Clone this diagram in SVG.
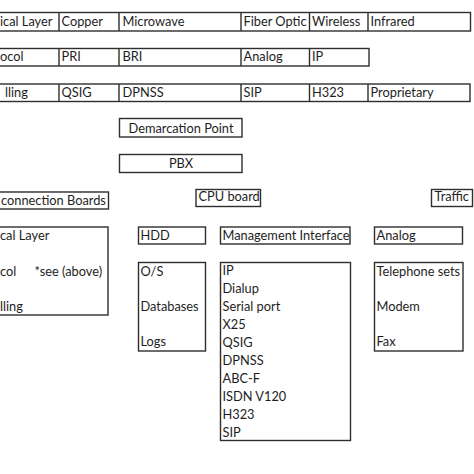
<svg xmlns="http://www.w3.org/2000/svg" width="474" height="474" viewBox="0 0 474 474">
<style>
.b{fill:#fff;stroke:#2e2e2e;stroke-width:1.4}
.l{stroke:#2e2e2e;stroke-width:1.4}
text{font-family:Lato,"Liberation Sans",sans-serif;font-size:12.8px;fill:#1e1e1e}
.c{text-anchor:middle}
</style>
<rect width="474" height="474" fill="#fff"/>
<g id="row-physical">
<rect class="b" x="-5" y="12.5" width="475.5" height="18.5"/>
<line class="l" x1="59" y1="12.5" x2="59" y2="31"/>
<line class="l" x1="119" y1="12.5" x2="119" y2="31"/>
<line class="l" x1="241" y1="12.5" x2="241" y2="31"/>
<line class="l" x1="309.5" y1="12.5" x2="309.5" y2="31"/>
<line class="l" x1="368" y1="12.5" x2="368" y2="31"/>
<text x="0" y="26">ical Layer</text>
<text x="61.5" y="26">Copper</text>
<text x="122.5" y="26">Microwave</text>
<text x="243.5" y="26">Fiber Optic</text>
<text x="312" y="26">Wireless</text>
<text x="370.5" y="26">Infrared</text>
</g>
<g id="row-protocol">
<rect class="b" x="-5" y="48.5" width="374" height="17.5"/>
<line class="l" x1="59" y1="48.5" x2="59" y2="66"/>
<line class="l" x1="119" y1="48.5" x2="119" y2="66"/>
<line class="l" x1="241" y1="48.5" x2="241" y2="66"/>
<line class="l" x1="309.5" y1="48.5" x2="309.5" y2="66"/>
<text x="0" y="61">ocol</text>
<text x="61.5" y="61">PRI</text>
<text x="122.5" y="61">BRI</text>
<text x="243.5" y="61">Analog</text>
<text x="312" y="61">IP</text>
</g>
<g id="row-signalling">
<rect class="b" x="-5" y="84" width="475" height="17.5"/>
<line class="l" x1="59" y1="84" x2="59" y2="101.5"/>
<line class="l" x1="119" y1="84" x2="119" y2="101.5"/>
<line class="l" x1="241" y1="84" x2="241" y2="101.5"/>
<line class="l" x1="309.5" y1="84" x2="309.5" y2="101.5"/>
<line class="l" x1="368" y1="84" x2="368" y2="101.5"/>
<text x="5" y="97">lling</text>
<text x="61.5" y="97">QSIG</text>
<text x="122.5" y="97">DPNSS</text>
<text x="243.5" y="97">SIP</text>
<text x="312" y="97">H323</text>
<text x="370.5" y="97">Proprietary</text>
</g>
<g id="demarcation">
<rect class="b" x="119.5" y="118.5" width="122.5" height="18.5"/>
<text class="c" x="181" y="132.5">Demarcation Point</text>
</g>
<g id="pbx">
<rect class="b" x="119.5" y="154.5" width="122.5" height="18"/>
<text class="c" x="181" y="167.5">PBX</text>
</g>
<g id="interconnection">
<rect class="b" x="-5" y="192" width="113.5" height="17"/>
<text x="1" y="205">connection Boards</text>
</g>
<g id="cpu">
<rect class="b" x="196" y="189.5" width="64.5" height="17"/>
<text x="198.5" y="201">CPU board</text>
</g>
<g id="traffic">
<rect class="b" x="431.5" y="189.5" width="41" height="17"/>
<text x="434.5" y="201">Traffic</text>
</g>
<g id="layers">
<rect class="b" x="-5" y="227" width="113" height="88"/>
<text x="0" y="240">cal Layer</text>
<text x="0" y="276">col</text>
<text x="34.5" y="276">*see (above)</text>
<text x="0" y="311">lling</text>
</g>
<g id="hdd">
<rect class="b" x="138.5" y="227" width="67" height="17"/>
<text x="140.5" y="240">HDD</text>
</g>
<g id="mgmt">
<rect class="b" x="220.5" y="227" width="129.5" height="17"/>
<text x="222.5" y="240">Management Interface</text>
</g>
<g id="analog">
<rect class="b" x="374.5" y="227" width="88" height="17"/>
<text x="376.5" y="240">Analog</text>
</g>
<g id="storage">
<rect class="b" x="138.5" y="262.5" width="67" height="88.5"/>
<text x="140.5" y="275.5">O/S</text>
<text x="140.5" y="311">Databases</text>
<text x="140.5" y="346">Logs</text>
</g>
<g id="interfaces">
<rect class="b" x="220.5" y="262.5" width="130" height="178"/>
<text x="222.5" y="274.5">IP</text>
<text x="222.5" y="292.6">Dialup</text>
<text x="222.5" y="310.7">Serial port</text>
<text x="222.5" y="328.8">X25</text>
<text x="222.5" y="346.9">QSIG</text>
<text x="222.5" y="365">DPNSS</text>
<text x="222.5" y="383.1">ABC-F</text>
<text x="222.5" y="401.2">ISDN V120</text>
<text x="222.5" y="419.3">H323</text>
<text x="222.5" y="437.4">SIP</text>
</g>
<g id="devices">
<rect class="b" x="374.5" y="262.5" width="88.5" height="88.5"/>
<text x="376.5" y="275.5">Telephone sets</text>
<text x="376.5" y="311">Modem</text>
<text x="376.5" y="346">Fax</text>
</g>
<g id="connectors"></g>
</svg>
